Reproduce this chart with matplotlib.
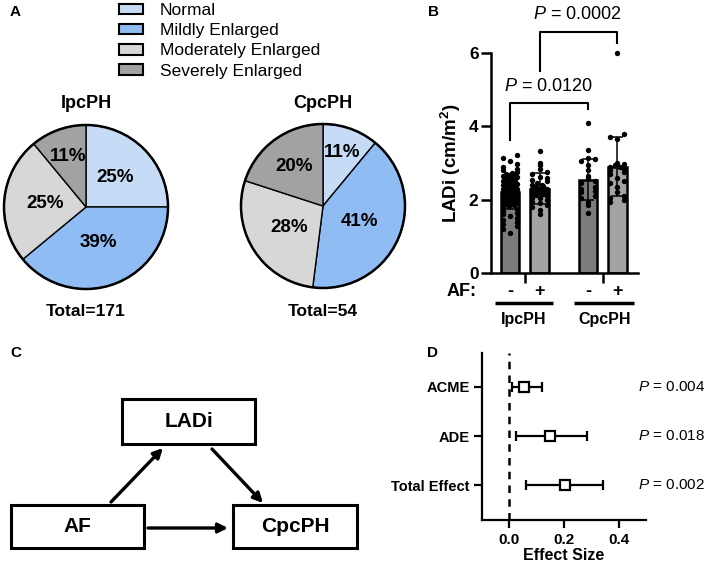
import matplotlib
matplotlib.use('Agg')
import matplotlib.pyplot as plt
import numpy as np
from matplotlib.patches import Patch, Rectangle, Circle

plt.rcParams['font.family'] = 'Liberation Sans'
plt.rcParams['mathtext.fontset'] = 'custom'
plt.rcParams['mathtext.rm'] = 'Liberation Sans'
plt.rcParams['mathtext.it'] = 'Liberation Sans:italic'
plt.rcParams['mathtext.bf'] = 'Liberation Sans:bold'

# --- data ---
# A: LA size categories (%)
categories = ['Normal', 'Mildly Enlarged', 'Moderately Enlarged', 'Severely Enlarged']
cat_colors = ['#c6dcf6', '#8fbcf3', '#d7d7d7', '#a2a2a4']
ipcph_pct = [25, 39, 25, 11]
cpcph_pct = [11, 41, 28, 20]
ipcph_total = 171
cpcph_total = 54

# B: LADi by group / AF
bar_pos = [0, 1, 2.65, 3.65]
bar_means = [2.2, 2.3, 2.55, 2.9]
bar_sds = [0.45, 0.43, 0.55, 0.81]
bar_colors = ['#7c7c7e', '#a3a3a5', '#7c7c7e', '#a3a3a5']
af_signs = ['-', '+', '-', '+']
groups = ['IpcPH', 'CpcPH']
ipc_noaf = [3.22, 3.15, 3.05, 2.98, 2.9, 2.85, 2.8, 2.75, 2.72, 2.7, 2.68, 2.65, 2.62,
            2.6, 2.58, 2.55, 2.52, 2.5, 2.48, 2.45, 2.42, 2.4, 2.38, 2.35, 2.33, 2.3,
            2.28, 2.25, 2.22, 2.2, 2.18, 2.15, 2.12, 2.1, 2.08, 2.05, 2.02, 2.0, 1.98,
            1.95, 1.92, 1.9, 1.88, 1.85, 1.82, 1.8, 1.75, 1.7, 1.65, 1.6, 1.55, 1.5,
            1.45, 1.4, 1.35, 1.28, 1.2, 1.08, 2.6, 2.4, 2.3, 2.2, 2.1, 2.0, 1.9, 2.7,
            2.5, 2.35, 2.15, 1.95]
ipc_af = [3.33, 3.0, 2.95, 2.85, 2.75, 2.7, 2.62, 2.55, 2.5, 2.45, 2.4, 2.38, 2.35, 2.3,
          2.28, 2.25, 2.22, 2.2, 2.18, 2.15, 2.12, 2.1, 2.05, 2.0, 1.95, 1.9, 1.85, 1.8,
          1.72, 1.6, 2.4, 2.3, 2.2, 2.6, 2.05]
cpc_noaf = [4.1, 3.35, 3.15, 3.1, 3.05, 2.95, 2.8, 2.65, 2.6, 2.5, 2.45, 2.35, 2.3, 2.25,
            2.2, 2.1, 2.05, 1.95, 1.85, 1.65]
cpc_af = [6.0, 3.78, 3.72, 3.65, 3.0, 2.98, 2.95, 2.9, 2.88, 2.85, 2.8, 2.75, 2.7, 2.6,
          2.5, 2.45, 2.35, 2.2, 2.1, 2.05, 1.98, 1.95]
p_ipc_cpc = 'P = 0.0120'
p_af_cpc = 'P = 0.0002'

# D: mediation effects
effects = ['ACME', 'ADE', 'Total Effect']
est = [0.053, 0.15, 0.204]
ci_lo = [0.01, 0.026, 0.061]
ci_hi = [0.12, 0.283, 0.341]
pvals = ['0.004', '0.018', '0.002']

W, H = 709, 565
fig = plt.figure(figsize=(7.09, 5.65), dpi=100)


def box(x0, y0, x1, y1):
    return [x0 / W, 1 - y1 / H, (x1 - x0) / W, (y1 - y0) / H]


ov = fig.add_axes([0, 0, 1, 1])
ov.set_xlim(0, W)
ov.set_ylim(H, 0)
ov.axis('off')

for lab, (x, y) in zip('ABCD', [(10, 12), (428, 12), (10, 353), (427, 353)]):
    ov.text(x, y, lab, fontsize=11, fontweight='bold', ha='left', va='center')

# --- A: pies ---
pie_dist = [[0.51, 0.46, 0.5, 0.66], [0.69, 0.48, 0.49, 0.6]]
for (cx, cy), vals, title, tot, dists in [((86, 207), ipcph_pct, 'IpcPH', ipcph_total, pie_dist[0]),
                                          ((323, 206), cpcph_pct, 'CpcPH', cpcph_total, pie_dist[1])]:
    r = 82
    ax = fig.add_axes(box(cx - 90, cy - 90, cx + 90, cy + 90))
    wedges, _ = ax.pie(vals, colors=cat_colors, startangle=90, counterclock=False, radius=1,
                       wedgeprops=dict(edgecolor='black', linewidth=1.0))
    ax.add_patch(Circle((0, 0), 1, fill=False, lw=1.8, edgecolor='black'))
    for w, d, v in zip(wedges, dists, vals):
        ang = np.deg2rad((w.theta1 + w.theta2) / 2)
        ax.text(d * np.cos(ang), d * np.sin(ang), f'{v}%', ha='center', va='center',
                fontsize=13.5, fontweight='bold')
    ax.set_xlim(-90 / r, 90 / r)
    ax.set_ylim(-90 / r, 90 / r)
    ax.set_aspect('equal')
    ax.axis('off')
    ov.text(cx, 103, title, fontsize=13, fontweight='bold', ha='center', va='center')
    ov.text(cx, 311, f'Total={tot}', fontsize=12.5, fontweight='bold', ha='center', va='center')

handles = [Patch(facecolor=c, edgecolor='black', linewidth=1.5) for c in cat_colors]
fig.legend(handles, categories, loc='upper left', bbox_to_anchor=(119 / W, 1 - 3 / H),
           frameon=False, fontsize=12.5, handlelength=1.4, handleheight=0.55,
           labelspacing=0.3, handletextpad=0.95, borderpad=0, borderaxespad=0)

# --- B: bars ---
axb = fig.add_axes(box(491, 53, 638, 273))
axb.bar(bar_pos, bar_means, width=0.62, color=bar_colors, edgecolor='black', lw=1.8, zorder=2)


def spread(vals, width):
    vals = np.sort(np.asarray(vals))
    xs = np.zeros(len(vals))
    bins = np.floor(vals / 0.12)
    for b in np.unique(bins):
        idx = np.where(bins == b)[0]
        n = len(idx)
        if n > 1:
            xs[idx] = np.linspace(-width, width, n)[np.argsort(np.arange(n) % 2)]
    return xs, vals


for xp, pts in zip(bar_pos, [ipc_noaf, ipc_af, cpc_noaf, cpc_af]):
    dx, vy = spread(pts, 0.24)
    axb.scatter(xp + dx, vy, s=15, color='black', zorder=3, clip_on=False, linewidths=0)
axb.errorbar(bar_pos, bar_means, yerr=bar_sds, fmt='none', ecolor='black', elinewidth=1.1,
             capsize=4, capthick=1.1, zorder=4)

axb.set_xlim(-0.65, 4.35)
axb.set_ylim(0, 6)
for s in ['top', 'right']:
    axb.spines[s].set_visible(False)
for s in ['left', 'bottom']:
    axb.spines[s].set_linewidth(1.8)
axb.set_yticks([0, 2, 4, 6])
axb.set_yticklabels(['0', '2', '4', '6'], fontsize=12.5, fontweight='bold')
axb.set_xticks([0.5, 3.15])
axb.set_xticklabels([])
axb.tick_params(axis='both', length=7, width=1.8, direction='out', pad=2)
axb.set_ylabel(r'LADi (cm/m$^{\mathbf{2}}$)', fontsize=13.5, fontweight='bold', labelpad=4)

axb.plot([0, 0, 2.65, 2.65], [3.62, 4.64, 4.64, 4.47], color='black', lw=1.5, clip_on=False)
axb.plot([1, 1, 3.65, 3.65], [5.52, 6.58, 6.58, 6.27], color='black', lw=1.5, clip_on=False)
axb.text(1.29, 5.08, p_ipc_cpc.replace('P', r'$\mathit{P}$'), fontsize=13, ha='center', va='center')
axb.text(2.3, 7.04, p_af_cpc.replace('P', r'$\mathit{P}$'), fontsize=13, ha='center', va='center',
         clip_on=False)

axb.text(-1.65, -0.5, 'AF:', fontsize=13, fontweight='bold', ha='center', va='center', clip_on=False)
for xp, sg in zip(bar_pos, af_signs):
    axb.text(xp, -0.5, sg, fontsize=13, fontweight='bold', ha='center', va='center', clip_on=False)
for (x0, x1), g in zip([(-0.51, 1.46), (2.18, 4.22)], groups):
    axb.plot([x0, x1], [-0.82, -0.82], color='black', lw=2.5, clip_on=False, solid_capstyle='butt')
    axb.text((x0 + x1) / 2, -1.28, g, fontsize=11.5, fontweight='bold', ha='center', va='center',
             clip_on=False)

# --- C: mediation diagram ---
for (x0, y0, x1, y1), t in [((122, 399, 255, 444), 'LADi'), ((11, 505, 144, 548), 'AF'),
                            ((233, 505, 357, 548), 'CpcPH')]:
    ov.add_patch(Rectangle((x0, y0), x1 - x0, y1 - y0, fill=False, lw=2.2, edgecolor='black'))
    ov.text((x0 + x1) / 2, (y0 + y1) / 2, t, fontsize=15, fontweight='bold', ha='center', va='center')
for (x0, y0), (x1, y1) in [((111, 502), (163, 448)), ((212, 449), (263, 503)), ((148, 528), (228, 528))]:
    ov.annotate('', xy=(x1, y1), xytext=(x0, y0),
                arrowprops=dict(arrowstyle='-|>', lw=2.4, color='black', mutation_scale=14,
                                shrinkA=0, shrinkB=0))

# --- D: forest plot ---
axd = fig.add_axes(box(482, 353, 646, 520))
ypos = np.arange(len(effects))
est_a = np.array(est)
axd.axvline(0, color='black', lw=1.8, dashes=(3, 2.5), zorder=1)
axd.errorbar(est_a, ypos, xerr=[est_a - np.array(ci_lo), np.array(ci_hi) - est_a], fmt='s',
             mfc='white', mec='black', mew=1.6, ms=7, ecolor='black', elinewidth=1.6,
             capsize=3.5, capthick=1.6, zorder=3)
axd.set_xlim(-0.1, 0.5)
axd.set_ylim(2.71, -0.69)
for s in ['top', 'right']:
    axd.spines[s].set_visible(False)
for s in ['left', 'bottom']:
    axd.spines[s].set_linewidth(1.6)
axd.set_yticks(ypos)
axd.set_yticklabels(effects, fontsize=10.5, fontweight='bold')
axd.set_xticks([0, 0.2, 0.4])
axd.set_xticklabels(['0.0', '0.2', '0.4'], fontsize=11, fontweight='bold')
axd.tick_params(axis='both', length=6, width=1.6, pad=3)
axd.set_xlabel('Effect Size', fontsize=11.5, fontweight='bold', labelpad=1)
for y, p in zip(ypos, pvals):
    axd.text(0.47, y, r'$\mathit{P}$ = ' + p, fontsize=11, ha='left', va='center', clip_on=False)

fig.savefig('out.png', dpi=100)
